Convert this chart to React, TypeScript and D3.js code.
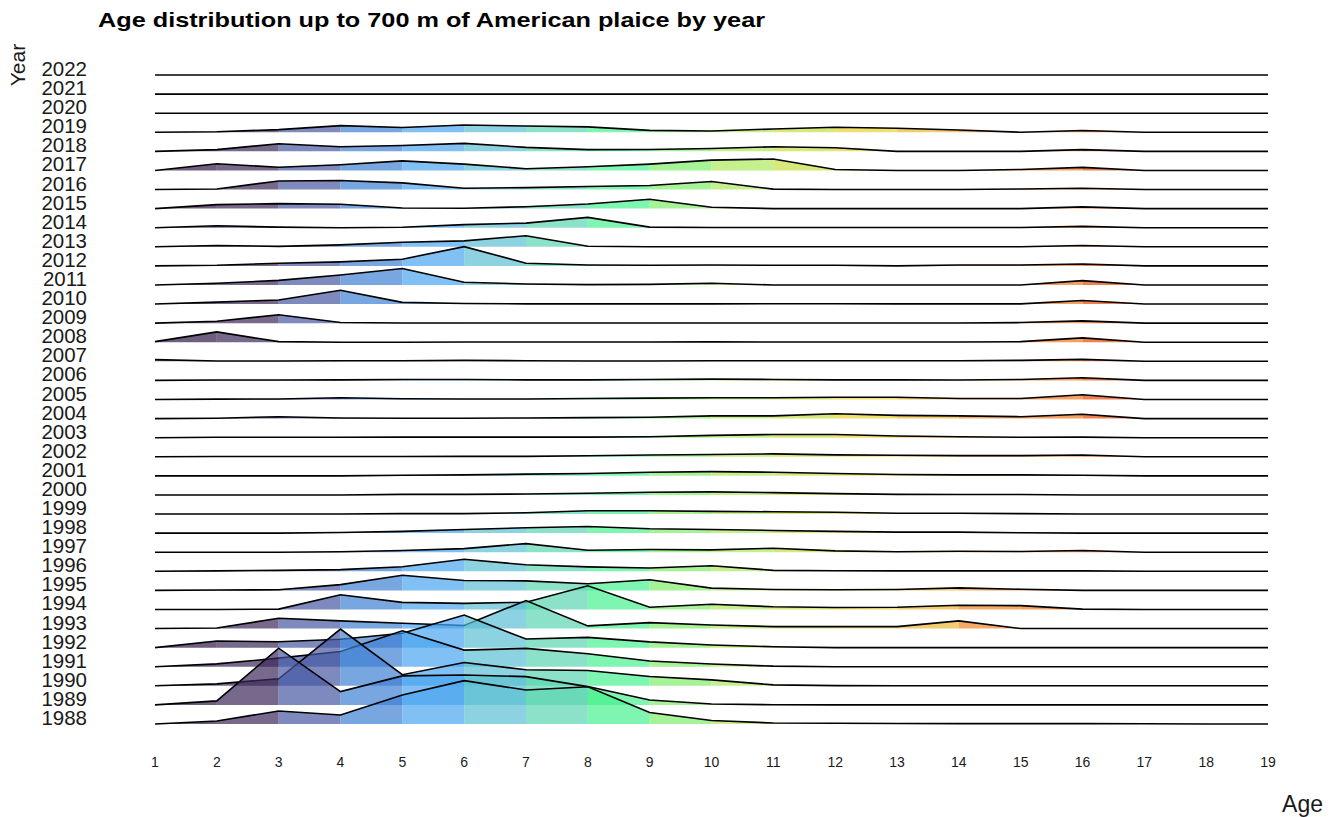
import React from 'react'
import { scaleLinear, scalePoint, scaleOrdinal, area, line } from 'd3'

// ages on the x axis
const ages = [1, 2, 3, 4, 5, 6, 7, 8, 9, 10, 11, 12, 13, 14, 15, 16, 17, 18, 19]
const years = [2022, 2021, 2020, 2019, 2018, 2017, 2016, 2015, 2014, 2013, 2012, 2011, 2010, 2009, 2008, 2007, 2006, 2005,
    2004, 2003, 2002, 2001, 2000, 1999, 1998, 1997, 1996, 1995, 1994, 1993, 1992, 1991, 1990, 1989, 1988]

// scaled proportion at age (1 = one row of height), ages 1..19
const p1988 = [0, 0.16, 0.68, 0.47, 1.52, 2.27, 1.78, 1.95, 0.6, 0.18, 0.05, 0.04, 0.03, 0.02, 0.02, 0.02, 0.01, 0, 0]
const p1989 = [0, 0.21, 2.97, 0.7, 1.52, 1.57, 1.48, 0.96, 0.26, 0.05, 0.01, 0, 0, 0, 0, 0, 0, 0, 0]
const p1990 = [0, 0.1, 0.37, 2.97, 0.58, 1.22, 0.84, 0.8, 0.49, 0.31, 0.05, 0.01, 0, 0, 0, 0, 0, 0, 0]
const p1991 = [0, 0.15, 0.45, 0.8, 1.88, 0.87, 0.96, 0.68, 0.3, 0.14, 0.03, 0, 0, 0, 0, 0, 0, 0, 0]
const p1992 = [0, 0.35, 0.31, 0.44, 0.75, 1.71, 0.45, 0.54, 0.3, 0.14, 0.05, 0, 0, 0, 0, 0, 0, 0, 0]
const p1993 = [0, 0.03, 0.54, 0.4, 0.28, 0.16, 1.47, 0.14, 0.31, 0.19, 0.1, 0.1, 0.1, 0.4, 0, 0, 0, 0, 0]
const p1994 = [0, 0, 0.02, 0.77, 0.37, 0.32, 0.38, 1.24, 0.12, 0.27, 0.14, 0.1, 0.12, 0.22, 0.2, 0.02, 0, 0, 0]
const p1995 = [0, 0.02, 0.03, 0.3, 0.79, 0.52, 0.5, 0.35, 0.56, 0.12, 0.05, 0.03, 0.05, 0.13, 0.06, 0, 0, 0, 0]
const p1996 = [0, 0.02, 0.05, 0.09, 0.24, 0.63, 0.34, 0.23, 0.17, 0.29, 0.05, 0.03, 0.02, 0.02, 0.02, 0.02, 0, 0, 0]
const p1997 = [0, 0, 0, 0.02, 0.09, 0.19, 0.45, 0.1, 0.14, 0.12, 0.21, 0.07, 0.02, 0.05, 0.04, 0.09, 0, 0, 0]
const p1998 = [0, 0, 0, 0.03, 0.09, 0.19, 0.28, 0.35, 0.23, 0.19, 0.14, 0.09, 0.05, 0.05, 0.02, 0, 0, 0, 0]
const p1999 = [0, 0, 0, 0, 0.02, 0.02, 0.07, 0.17, 0.17, 0.14, 0.12, 0.09, 0.04, 0.04, 0.02, 0, 0, 0, 0]
const p2000 = [0, 0, 0, 0, 0.03, 0.03, 0.05, 0.09, 0.14, 0.16, 0.12, 0.07, 0.03, 0.02, 0.02, 0, 0, 0, 0]
const p2001 = [0, 0, 0, 0, 0.03, 0.05, 0.09, 0.12, 0.19, 0.22, 0.19, 0.12, 0.07, 0.05, 0.05, 0.03, 0, 0, 0]
const p2002 = [0, 0.01, 0.01, 0.01, 0.01, 0.02, 0.02, 0.05, 0.09, 0.12, 0.15, 0.1, 0.08, 0.06, 0.06, 0.09, 0, 0, 0]
const p2003 = [0, 0.02, 0.02, 0.02, 0.03, 0.03, 0.03, 0.03, 0.05, 0.12, 0.17, 0.17, 0.09, 0.05, 0.02, 0.03, 0, 0, 0]
const p2004 = [0, 0.02, 0.1, 0.03, 0.02, 0.02, 0.03, 0.05, 0.07, 0.14, 0.14, 0.25, 0.17, 0.14, 0.1, 0.23, 0, 0, 0]
const p2005 = [0, 0.02, 0.03, 0.09, 0.04, 0.03, 0.03, 0.05, 0.07, 0.09, 0.09, 0.12, 0.12, 0.05, 0.05, 0.25, 0, 0, 0]
const p2006 = [0, 0.02, 0.02, 0.03, 0.05, 0.05, 0.03, 0.03, 0.05, 0.07, 0.05, 0.03, 0.03, 0.02, 0.05, 0.14, 0, 0, 0]
const p2007 = [0.09, 0.02, 0.02, 0.03, 0.03, 0.05, 0.03, 0.02, 0.02, 0.03, 0.03, 0.03, 0.03, 0.03, 0.05, 0.1, 0, 0, 0]
const p2008 = [0.03, 0.54, 0.03, 0, 0, 0.01, 0.01, 0.01, 0.01, 0.02, 0.01, 0.01, 0.01, 0.01, 0.03, 0.23, 0, 0, 0]
const p2009 = [0, 0.1, 0.44, 0.03, 0.01, 0.01, 0.01, 0.01, 0.01, 0.01, 0.01, 0.01, 0.01, 0.01, 0.03, 0.12, 0, 0, 0]
const p2010 = [0, 0.1, 0.21, 0.72, 0.09, 0.03, 0.01, 0.01, 0.01, 0.01, 0.02, 0.02, 0.01, 0.01, 0.01, 0.19, 0, 0, 0]
const p2011 = [0, 0.09, 0.24, 0.52, 0.86, 0.14, 0.05, 0.02, 0.03, 0.09, 0, 0, 0, 0, 0, 0.23, 0, 0, 0]
const p2012 = [0, 0.03, 0.14, 0.21, 0.35, 1.01, 0.14, 0.05, 0.03, 0.05, 0.03, 0.03, 0, 0.05, 0.05, 0.1, 0, 0, 0]
const p2013 = [0, 0.07, 0.02, 0.1, 0.24, 0.31, 0.58, 0.03, 0, 0, 0, 0, 0, 0, 0, 0.07, 0, 0, 0]
const p2014 = [0, 0.1, 0.03, 0, 0.02, 0.16, 0.24, 0.54, 0.03, 0.01, 0.01, 0.01, 0.01, 0.01, 0.01, 0.07, 0, 0, 0]
const p2015 = [0, 0.21, 0.26, 0.23, 0.03, 0.02, 0.1, 0.24, 0.49, 0.07, 0, 0, 0, 0, 0, 0.09, 0, 0, 0]
const p2016 = [0, 0.03, 0.45, 0.47, 0.35, 0.07, 0.1, 0.16, 0.21, 0.42, 0.02, 0, 0, 0, 0.03, 0.07, 0, 0, 0]
const p2017 = [0, 0.35, 0.17, 0.3, 0.5, 0.33, 0.09, 0.19, 0.33, 0.54, 0.6, 0.05, 0, 0, 0.05, 0.16, 0, 0, 0]
const p2018 = [0, 0.09, 0.4, 0.24, 0.31, 0.42, 0.21, 0.09, 0.1, 0.15, 0.24, 0.19, 0, 0, 0, 0.09, 0, 0, 0]
const p2019 = [0, 0.03, 0.14, 0.35, 0.25, 0.38, 0.33, 0.28, 0.1, 0.07, 0.17, 0.26, 0.21, 0.12, 0, 0.09, 0, 0, 0]
const p2020 = [0, 0, 0, 0, 0, 0, 0, 0, 0, 0, 0, 0, 0, 0, 0, 0, 0, 0, 0]
const p2021 = [0, 0, 0, 0, 0, 0, 0, 0, 0, 0, 0, 0, 0, 0, 0, 0, 0, 0, 0]
const p2022 = [0, 0, 0, 0, 0, 0, 0, 0, 0, 0, 0, 0, 0, 0, 0, 0, 0, 0, 0]

const byYear: Record<number, number[]> = {
    1988: p1988, 1989: p1989, 1990: p1990, 1991: p1991, 1992: p1992, 1993: p1993, 1994: p1994, 1995: p1995,
    1996: p1996, 1997: p1997, 1998: p1998, 1999: p1999, 2000: p2000, 2001: p2001, 2002: p2002, 2003: p2003,
    2004: p2004, 2005: p2005, 2006: p2006, 2007: p2007, 2008: p2008, 2009: p2009, 2010: p2010, 2011: p2011,
    2012: p2012, 2013: p2013, 2014: p2014, 2015: p2015, 2016: p2016, 2017: p2017, 2018: p2018, 2019: p2019,
    2020: p2020, 2021: p2021, 2022: p2022,
}

// turbo-like fill for each age band
const palette = ['#33194a', '#3d2a5b', '#4758a2', '#3e80d3', '#4aa5ef', '#5bbfd3', '#5bd6b1', '#47f18e', '#80ec69',
    '#aeea5e', '#c7de44', '#ead333', '#ecb633', '#ee8827', '#ef771c', '#ea4a05', '#c82903', '#8c0a03']

const W = 1340
const H = 817
const font = '"Liberation Sans", Arial, sans-serif'

const App = () => {
    const x = scaleLinear().domain([1, 19]).range([155, 1268])
    const y = scalePoint<number>().domain(years).range([75, 724])
    const h = scaleLinear().domain([0, 1]).range([0, y.step()])
    const fill = scaleOrdinal<number, string>().domain(ages.slice(0, 18)).range(palette)

    const band = area<[number, number]>()
        .x(d => x(d[0]))
        .y0(0)
        .y1(d => -h(d[1]))
    const ridge = line<[number, number]>()
        .x(d => x(d[0]))
        .y(d => -h(d[1]))

    // draw back (top) rows first so lower rows sit in front
    return (
        <svg width={W} height={H} style={{ position: 'absolute', left: 0, top: 0, background: '#fff' }}>
            <text x={98} y={27} fontFamily={font} fontWeight="bold" fontSize={21} fill="#000"
                textLength={667} lengthAdjust="spacingAndGlyphs">
                Age distribution up to 700 m of American plaice by year
            </text>
            <text transform="translate(25,65) rotate(-90)" textAnchor="middle" fontFamily={font} fontSize={21} fill="#1a1a1a">Year</text>
            <text x={1323} y={812} textAnchor="end" fontFamily={font} fontSize={23} fill="#1a1a1a">Age</text>

            {years.map(yr => (
                <text key={'l' + yr} x={87} y={(y(yr) as number) + 1} textAnchor="end" fontFamily={font} fontSize={20.5} fill="#1a1a1a">{yr}</text>
            ))}

            {ages.map(a => (
                <text key={'t' + a} x={x(a)} y={767} textAnchor="middle" fontFamily={font} fontSize={14} fill="#1a1a1a">{a}</text>
            ))}

            {years.map(yr => {
                const vals = byYear[yr]
                const pts = ages.map((a, i) => [a, vals[i]] as [number, number])
                return (
                    <g key={yr} transform={`translate(0,${y(yr)})`}>
                        {ages.slice(0, 18).map((a, i) => (
                            <path key={a} d={band([pts[i], pts[i + 1]]) || ''} fill={fill(a)} fillOpacity={0.7} />
                        ))}
                        <path d={ridge(pts) || ''} fill="none" stroke="#000" strokeWidth={1.6} />
                    </g>
                )
            })}
        </svg>
    )
}

export default App
